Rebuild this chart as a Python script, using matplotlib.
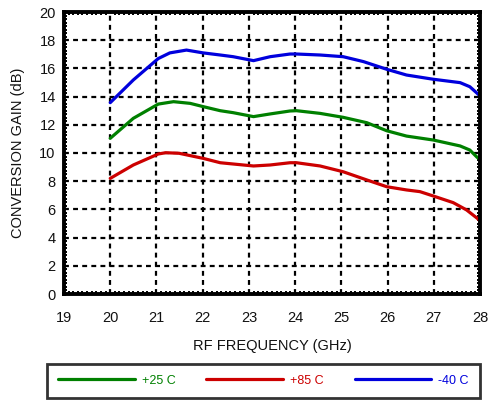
import matplotlib
matplotlib.use("Agg")
import matplotlib.pyplot as plt
from matplotlib.ticker import MultipleLocator

plt.rcParams['font.family'] = ['Liberation Sans', 'DejaVu Sans']

freq_25 = [20.0, 20.5, 21.04, 21.37, 21.73, 22.01, 22.38, 22.66, 23.1, 23.46, 23.89, 24.03, 24.54, 25.04,
           25.55, 25.98, 26.41, 26.99, 27.57, 27.78, 27.94, 28.0]
gain_25 = [11.04, 12.46, 13.47, 13.64, 13.52, 13.29, 13.0, 12.86, 12.58, 12.77, 12.98, 13.0, 12.81, 12.53,
           12.15, 11.58, 11.2, 10.92, 10.5, 10.21, 9.69, 9.55]

freq_85 = [20.0, 20.5, 21.04, 21.2, 21.49, 22.01, 22.38, 22.66, 23.1, 23.46, 23.89, 24.03, 24.54, 25.04,
           25.55, 25.98, 26.41, 26.7, 26.99, 27.42, 27.71, 27.94, 28.0]
gain_85 = [8.2, 9.15, 9.93, 10.02, 9.98, 9.62, 9.31, 9.22, 9.08, 9.15, 9.31, 9.31, 9.08, 8.67,
           8.09, 7.61, 7.38, 7.26, 6.95, 6.48, 5.96, 5.37, 5.2]

freq_m40 = [20.0, 20.5, 21.04, 21.29, 21.65, 22.01, 22.38, 22.66, 23.1, 23.46, 23.89, 24.03, 24.54, 25.04,
            25.48, 25.98, 26.41, 26.99, 27.57, 27.78, 27.94, 28.0]
gain_m40 = [13.57, 15.18, 16.7, 17.1, 17.3, 17.1, 16.95, 16.83, 16.55, 16.83, 17.02, 17.02, 16.95, 16.83,
            16.48, 15.94, 15.53, 15.23, 14.99, 14.7, 14.23, 14.05]

labels = ['+25 C', '+85 C', '-40 C']
colors = ['#008000', '#cc0000', '#0000dd']

x_ticks = list(range(19, 29))
y_ticks = list(range(0, 21, 2))

fig = plt.figure(figsize=(4.9, 4.0), dpi=100)
ax = fig.add_axes([64/490, 1 - 294/400, 416/490, 282/400])

for fx, gy, lab, c in zip([freq_25, freq_85, freq_m40], [gain_25, gain_85, gain_m40], labels, colors):
    ax.plot(fx, gy, color=c, lw=2.3, label=lab, solid_capstyle='round', solid_joinstyle='round')

ax.set_xlim(19, 28)
ax.set_ylim(0, 20)
ax.set_xticks(x_ticks)
ax.set_yticks(y_ticks)
ax.xaxis.set_minor_locator(MultipleLocator(0.1))
ax.yaxis.set_minor_locator(MultipleLocator(0.25))
ax.tick_params(which='major', length=0, labelsize=10.5, colors='#111111')
ax.tick_params(axis='x', which='major', pad=12)
ax.tick_params(axis='y', which='major', pad=6)
ax.tick_params(which='minor', direction='in', length=2.2, width=1.4, top=True, right=True, bottom=True, left=True)
ax.grid(True, which='major', color='black', lw=1.6, linestyle=(0, (2.2, 1.9)))
for s in ax.spines.values():
    s.set_linewidth(2.8)

ax.set_xlabel('RF FREQUENCY (GHz)', fontsize=10.5, labelpad=10, color='#111111')
ax.set_ylabel('CONVERSION GAIN (dB)', fontsize=10.5, labelpad=10, color='#111111')

leg = fig.legend(loc='lower left', bbox_to_anchor=(47/490, 2/400, 433/490, 40/400), mode='expand',
                 ncol=3, fontsize=9, handlelength=6.1, handletextpad=0.6, frameon=True,
                 fancybox=False, edgecolor='black', borderaxespad=0, labelcolor='linecolor',
                 borderpad=0.9)
leg.get_frame().set_linewidth(2.0)

fig.savefig('out.png', dpi=100)
